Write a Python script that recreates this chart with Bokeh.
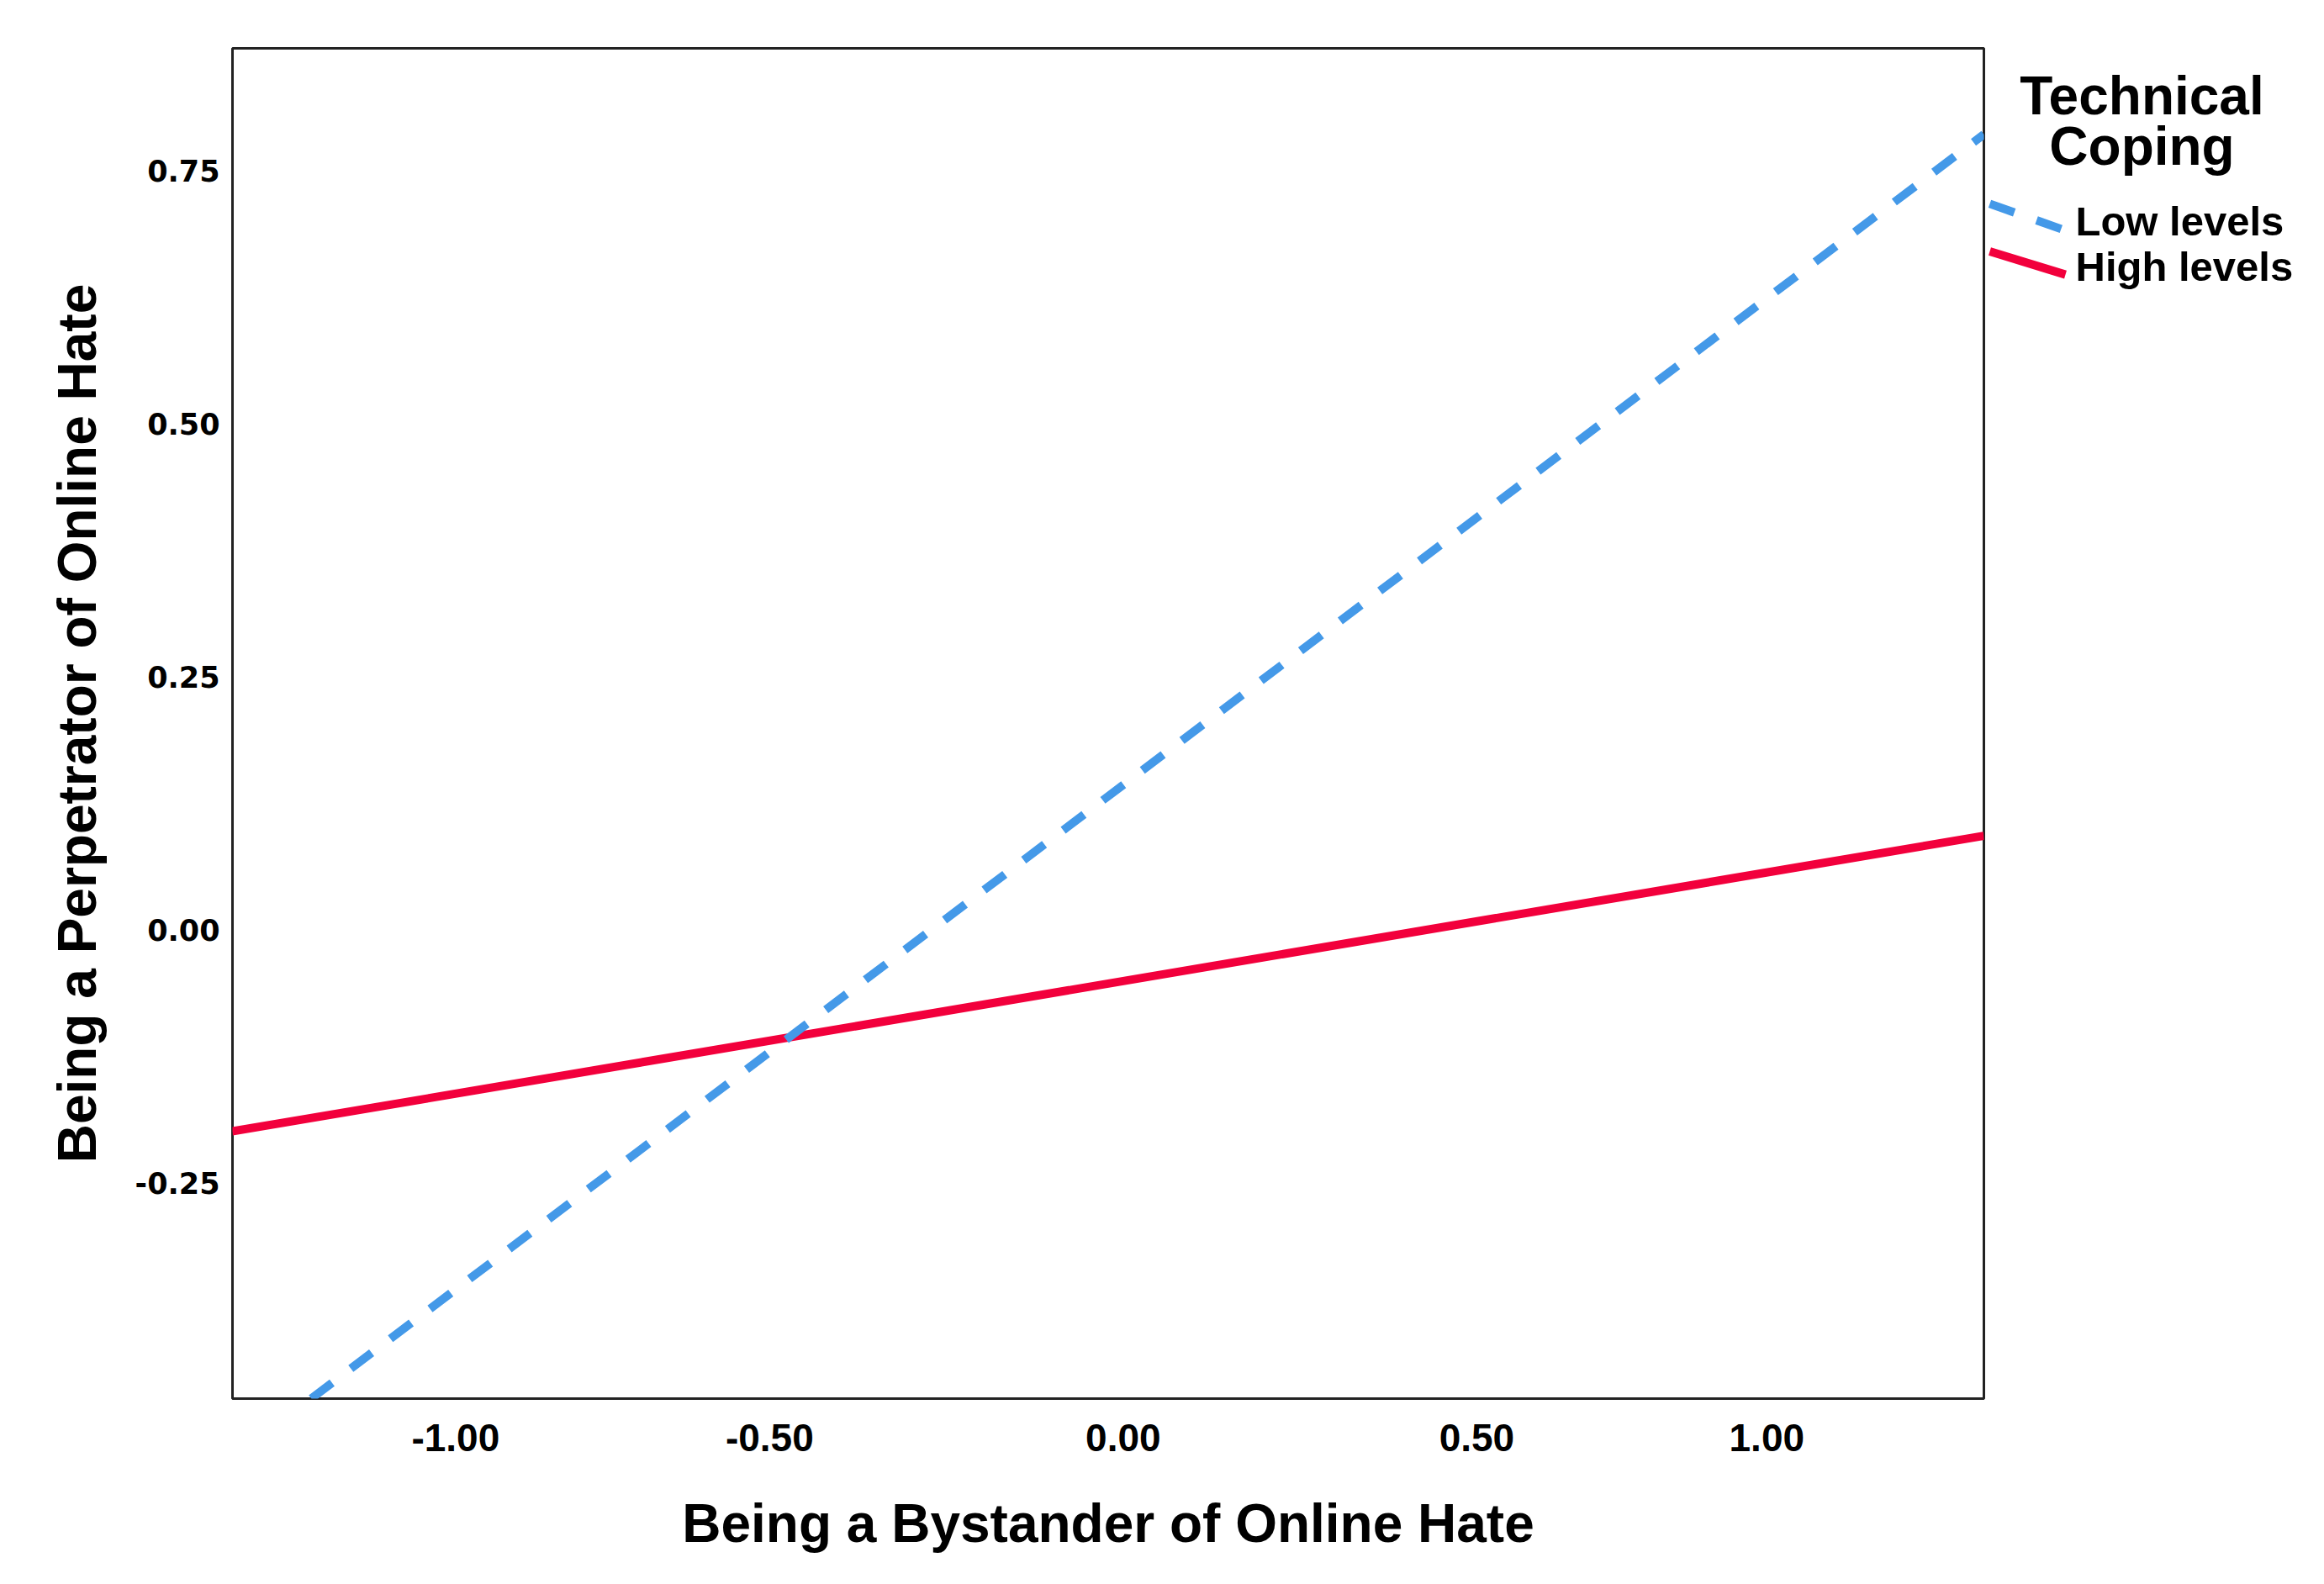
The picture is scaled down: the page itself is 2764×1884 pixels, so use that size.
from bokeh.plotting import figure
from bokeh.layouts import row
from bokeh.models import Range1d, FixedTicker
from bokeh.core.properties import value
from bokeh.embed import file_html
from bokeh.resources import INLINE

# ---- data ----
x_ends = [-1.26, 1.217]                      # bystander (x) range of the simple slopes
low_levels_y = [-0.522, 0.786]               # Technical coping: low levels (dashed blue)
high_levels_y = [-0.199, 0.093]              # Technical coping: high levels (solid red)
x_tick_pos = [-0.944, -0.5, 0.0, 0.5, 0.91]
x_tick_labels = ["-1.00", "-0.50", "0.00", "0.50", "1.00"]
y_tick_pos = [-0.25, 0.0, 0.25, 0.50, 0.75]
y_tick_labels = ["-0.25", "0.00", "0.25", "0.50", "0.75"]
legend_title = ["Technical", "Coping"]
legend_labels = ["Low levels", "High levels"]

BLUE = "#4499E8"
RED = "#F2003C"
FONT = "Liberation Sans"

p = figure(width=2363, height=1868, output_backend="svg", toolbar_location=None,
           x_range=Range1d(-1.2595, 1.217), y_range=Range1d(-0.463, 0.871),
           min_border_left=276, min_border_right=4, min_border_top=57, min_border_bottom=205)
p.background_fill_color = "white"
p.border_fill_color = "white"
p.outline_line_color = "#222222"
p.outline_line_width = 3
p.xgrid.grid_line_color = None
p.ygrid.grid_line_color = None

p.line(x_ends, high_levels_y, line_color=RED, line_width=10, line_cap="butt")
p.line(x_ends, low_levels_y, line_color=BLUE, line_width=10, line_dash="31 28", line_cap="butt")

xa = p.xaxis[0]
xa.ticker = FixedTicker(ticks=x_tick_pos)
xa.major_label_overrides = {t: l for t, l in zip(x_tick_pos, x_tick_labels)}
xa.axis_line_color = None
xa.major_tick_line_color = None
xa.minor_tick_line_color = None
xa.major_label_text_font = FONT
xa.major_label_text_font_style = "bold"
xa.major_label_text_font_size = "46px"
xa.major_label_text_color = "black"
xa.major_label_standoff = 24
xa.axis_label = "Being a Bystander of Online Hate"
xa.axis_label_text_font = FONT
xa.axis_label_text_font_style = "bold"
xa.axis_label_text_font_size = "64px"
xa.axis_label_text_color = "black"
xa.axis_label_standoff = 47

ya = p.yaxis[0]
ya.ticker = FixedTicker(ticks=y_tick_pos)
ya.major_label_overrides = {t: l for t, l in zip(y_tick_pos, y_tick_labels)}
ya.axis_line_color = None
ya.major_tick_line_color = None
ya.minor_tick_line_color = None
ya.major_label_text_font = "DejaVu Sans"
ya.major_label_text_font_style = "bold"
ya.major_label_text_font_size = "35px"
ya.major_label_text_color = "black"
ya.major_label_standoff = 9
ya.axis_label = "Being a Perpetrator of Online Hate"
ya.axis_label_text_font = FONT
ya.axis_label_text_font_style = "bold"
ya.axis_label_text_font_size = "64px"
ya.axis_label_text_color = "black"
ya.axis_label_standoff = 30

# ---- legend panel (screen-like coordinates) ----
leg = figure(width=385, height=1868, output_backend="svg", toolbar_location=None,
             x_range=Range1d(0, 385), y_range=Range1d(1868, 0),
             x_axis_type=None, y_axis_type=None,
             min_border=0)
leg.outline_line_color = None
leg.background_fill_color = "white"
leg.border_fill_color = "white"
leg.xgrid.grid_line_color = None
leg.ygrid.grid_line_color = None

leg.text(x=[184, 184], y=[66, 135], text=legend_title, text_font=value(FONT),
         text_font_style="bold", text_font_size="64px", text_align="center",
         text_baseline="alphabetic", text_color="black")
leg.segment(x0=[3], y0=[215], x1=[88], y1=[250], line_color=BLUE, line_width=10,
            line_dash="31 28", line_cap="butt")
leg.segment(x0=[3], y0=[281], x1=[93], y1=[313], line_color=RED, line_width=10,
            line_cap="butt")
leg.text(x=[105, 105], y=[239, 302], text=legend_labels, text_font=value(FONT),
         text_font_style="bold", text_font_size="49px", text_align="left",
         text_baseline="alphabetic", text_color="black")

layout = row(p, leg)
open("out.html", "w").write(file_html(layout, INLINE))
